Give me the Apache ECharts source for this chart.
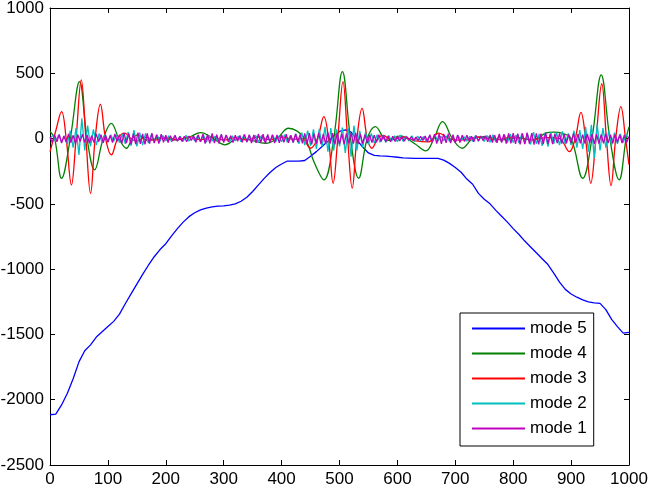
<!DOCTYPE html>
<html>
<head>
<meta charset="utf-8">
<title>modes</title>
<script src="https://cdn.jsdelivr.net/npm/echarts@6/dist/echarts.min.js"></script>
<style>
	html, body { margin: 0; padding: 0; background: #fff; }
	#chart { width: 650px; height: 488px; }
</style>
</head>
<body>
<div id="chart"></div>
<script>
// x ticks / y ticks
var xTicks = [0, 100, 200, 300, 400, 500, 600, 700, 800, 900, 1000];
var yTicks = [-2500, -2000, -1500, -1000, -500, 0, 500, 1000];
var names = ['mode 5', 'mode 4', 'mode 3', 'mode 2', 'mode 1'];

// mode 5 : slow trend, one value every 10
var mode5Step = 10;
var mode5 = [-2115, -2110, -2040, -1950, -1840, -1710, -1625, -1580, -1520, -1480,
	-1440, -1400, -1345, -1265, -1190, -1115, -1040, -970, -905, -850,
	-805, -745, -690, -640, -598, -568, -546, -532, -523, -518,
	-516, -510, -500, -480, -450, -405, -355, -305, -260, -222,
	-195, -172, -172, -172, -168, -135, -100, -60, -20, 20,
	55, 66, 50, -10, -65, -110, -128, -132, -135, -138,
	-143, -148, -150, -152, -151, -151, -151, -152, -165, -190,
	-222, -258, -310, -350, -420, -465, -500, -550, -595, -640,
	-690, -735, -785, -830, -875, -920, -965, -1030, -1100, -1155,
	-1190, -1215, -1235, -1250, -1258, -1262, -1310, -1385, -1440, -1490,
	-1485];

// mode 4 : extrema and crossings
var mode4X = [0, 8, 20, 35, 51, 64, 77, 92, 106, 119,
	132, 142, 152, 170, 190, 215, 240, 260, 282, 302,
	325, 345, 372, 392, 412, 440, 456, 473, 490, 505,
	519, 533, 548, 562, 582, 605, 630, 649, 663, 678,
	695, 712, 730, 750, 780, 810, 835, 856, 870, 885,
	900, 920, 936, 952, 967, 983, 995, 1000];
var mode4Y = [54, 0, -304, 0, 436, 0, -240, 0, 117, 0,
	-74, 0, 28, -15, 5, -10, 10, 45, 0, -48,
	0, -10, -36, 0, 79, 0, -180, -316, 0, 513,
	0, -304, 0, 92, -15, 20, -40, -94, 0, 130,
	0, -74, 0, 15, -10, 5, -10, 41, 50, 40,
	0, -304, 0, 488, 0, -316, 0, 90];

// mode 3
var mode3X = [0, 10, 20, 28, 37, 45, 54, 62, 70, 78,
	87, 96, 106, 117, 129, 140, 150, 165, 180, 200,
	220, 240, 260, 280, 300, 320, 340, 360, 380, 400,
	420, 435, 450, 462, 473, 481, 489, 497, 506, 514,
	522, 530, 539, 548, 556, 566, 575, 590, 610, 630,
	654, 671, 690, 710, 740, 770, 800, 830, 860, 880,
	897, 907, 917, 925, 934, 943, 953, 961, 969, 977,
	986, 994, 1000];
var mode3Y = [-100, 60, 207, 0, -355, 0, 449, 0, -419, 0,
	263, 0, -125, 0, 41, 0, -20, 10, -12, 8,
	-10, 12, -8, 10, -12, 8, -10, 12, -8, 10,
	-5, 0, -74, 0, 168, 0, -342, 0, 436, 0,
	-380, 0, 232, 0, -74, 0, 25, -10, 12, -15,
	-25, 41, 0, -12, 10, -8, 12, -10, 8, 0,
	-100, 0, 200, 0, -342, 0, 420, 0, -360, 0,
	245, 0, -200];

// mode 2 : one value every 5
var mode2Step = 5;
var mode2 = [0, 25, -20, 30, -25, 20, -40, 60, -70, 80, -125, 155, -90, 100, -60, 70, -50, 40, -35, 30,
	-25, 30, -20, 25, -30, 35, -40, 50, -55, 65, -60, 45, -50, 40, -35, 30, -25, 28, -20, 24,
	-18, 22, -25, 20, -15, 18, -22, 26, -20, 15, -18, 22, -25, 30, -28, 24, -20, 18, -22, 25,
	-20, 24, -28, 22, -18, 20, -25, 30, -26, 22, -20, 25, -28, 24, -20, 18, -22, 26, -24, 20,
	-25, 30, -28, 24, -30, 35, -40, 45, -50, 60, -55, 70, -80, 75, -60, 90, -100, 80, -90, 70,
	-60, 85, -110, 80, -138, 100, -90, 60, -70, 50, -45, 40, -35, 30, -28, 25, -30, 24, -20, 22,
	-25, 28, -22, 20, -18, 22, -25, 20, -18, 15, -20, 18, -22, 25, -20, 18, -15, 20, -22, 18,
	-20, 22, -18, 15, -20, 18, -22, 25, -20, 18, -22, 24, -28, 30, -26, 22, -25, 28, -30, 35,
	-30, 28, -35, 40, -38, 30, -45, 50, -40, 35, -55, 45, -61, 50, -40, 45, -50, 55, -45, 40,
	-50, 60, -70, 65, -80, 90, -100, 105, -150, 110, -90, 80, -70, 60, -50, 45, -40, 35, -30, 28,
	0];

// mode 1 : one value every 4
var mode1Step = 4;
var mode1 = [10, -30, 28, -25, 32, -35, 20, -28, 35, -30, 25, -38, 30, -22, 34, -30, 28, -35, 22, -30, 36, -25, 30, -32, 26,
	-28, 24, -30, 35, -20, 30, -38, 42, -35, 40, -45, 38, -42, 45, -40, 36, -44, 40, -38, 42, -35, 30, -38, 34, -28,
	25, -30, 22, -18, 26, -20, 15, -22, 18, -25, 20, -15, 22, -28, 30, -25, 34, -38, 32, -36, 40, -35, 30, -38, 34,
	-30, 28, -25, 22, -30, 26, -20, 24, -28, 32, -26, 30, -35, 28, -32, 36, -30, 34, -38, 32, -28, 30, -34, 28, -32,
	30, -28, 34, -32, 26, -30, 35, -28, 32, -36, 40, -38, 42, -45, 38, -40, 44, -42, 36, -40, 45, -38, 42, -44, 40,
	-42, 38, -45, 40, -36, 42, -38, 44, -40, 35, -38, 30, -34, 28, -30, 25, -28, 30, -22, 26, -25, 20, -24, 18, -22,
	20, -18, 15, -20, 16, -12, 14, -18, 12, -15, 18, -14, 20, -25, 30, -28, 34, -38, 35, -40, 36, -32, 38, -35, 30,
	-34, 28, -30, 25, -22, 26, -20, 18, -24, 22, -18, 20, -15, 22, -25, 28, -30, 26, -32, 35, -30, 34, -38, 40, -36,
	42, -40, 38, -44, 40, -42, 45, -38, 42, -46, 40, -44, 38, -42, 45, -40, 36, -42, 38, -35, 40, -38, 34, -36, 32,
	-35, 38, -30, 34, -36, 30, -38, 35, -32, 36, -40, 34, -38, 32, -36, 38, -34, 30, -36, 32, -28, 30, -34, 28, -30,
	15];

var colors = ['#0000ff', '#008000', '#ff0000', '#00bfbf', '#bf00bf'];

// pair up x and y for the value axis
function stepped(vals, step) {
	var out = [];
	for (var i = 0; i < vals.length; i++) {
		out.push([i * step, vals[i]]);
	}
	return out;
}
function paired(xs, ys) {
	var out = [];
	for (var i = 0; i < xs.length; i++) {
		out.push([xs[i], ys[i]]);
	}
	return out;
}

var font = 'Liberation Sans, Arial, sans-serif';

function boxAxis(pos, min, max, interval, labels) {
	return {
		type: 'value',
		position: pos,
		min: min,
		max: max,
		interval: interval,
		axisLine: { show: true, onZero: false, lineStyle: { color: '#000', width: 1 } },
		axisTick: { show: true, inside: true, length: 5, lineStyle: { color: '#000' } },
		splitLine: { show: false },
		axisLabel: {
			show: labels,
			color: '#000',
			fontSize: 17,
			fontFamily: font,
			margin: 6,
			formatter: function(v) {
				return String(v);
			}
		}
	};
}

function lineSeries(i, data, smooth) {
	return {
		name: names[i],
		type: 'line',
		data: data,
		symbol: 'none',
		smooth: smooth,
		silent: true,
		lineStyle: { color: colors[i], width: 1.3 },
		itemStyle: { color: colors[i] }
	};
}

var myChart = echarts.init(document.getElementById('chart'));

var option = {
	animation: false,
	backgroundColor: '#fff',
	grid: { left: 50, right: 21, top: 8, bottom: 23, outerBoundsMode: 'none', containLabel: false },
	xAxis: [
		boxAxis('bottom', xTicks[0], xTicks[xTicks.length - 1], 100, true),
		boxAxis('top', xTicks[0], xTicks[xTicks.length - 1], 100, false)
	],
	yAxis: [
		boxAxis('left', yTicks[0], yTicks[yTicks.length - 1], 500, true),
		boxAxis('right', yTicks[0], yTicks[yTicks.length - 1], 500, false)
	],
	legend: {
		data: names,
		orient: 'vertical',
		left: 460,
		top: 313,
		padding: [7, 7, 9, 11],
		itemWidth: 53,
		itemHeight: 14,
		itemGap: 8,
		backgroundColor: '#fff',
		borderColor: '#000',
		borderWidth: 1,
		borderRadius: 0,
		selectedMode: false,
		itemStyle: { opacity: 0 },
		textStyle: { color: '#000', fontSize: 17, fontFamily: font }
	},
	series: [
		lineSeries(0, stepped(mode5, mode5Step), false),
		lineSeries(1, paired(mode4X, mode4Y), 0.4),
		lineSeries(2, paired(mode3X, mode3Y), 0.4),
		lineSeries(3, stepped(mode2, mode2Step), false),
		lineSeries(4, stepped(mode1, mode1Step), false)
	]
};

myChart.setOption(option);
</script>
</body>
</html>
